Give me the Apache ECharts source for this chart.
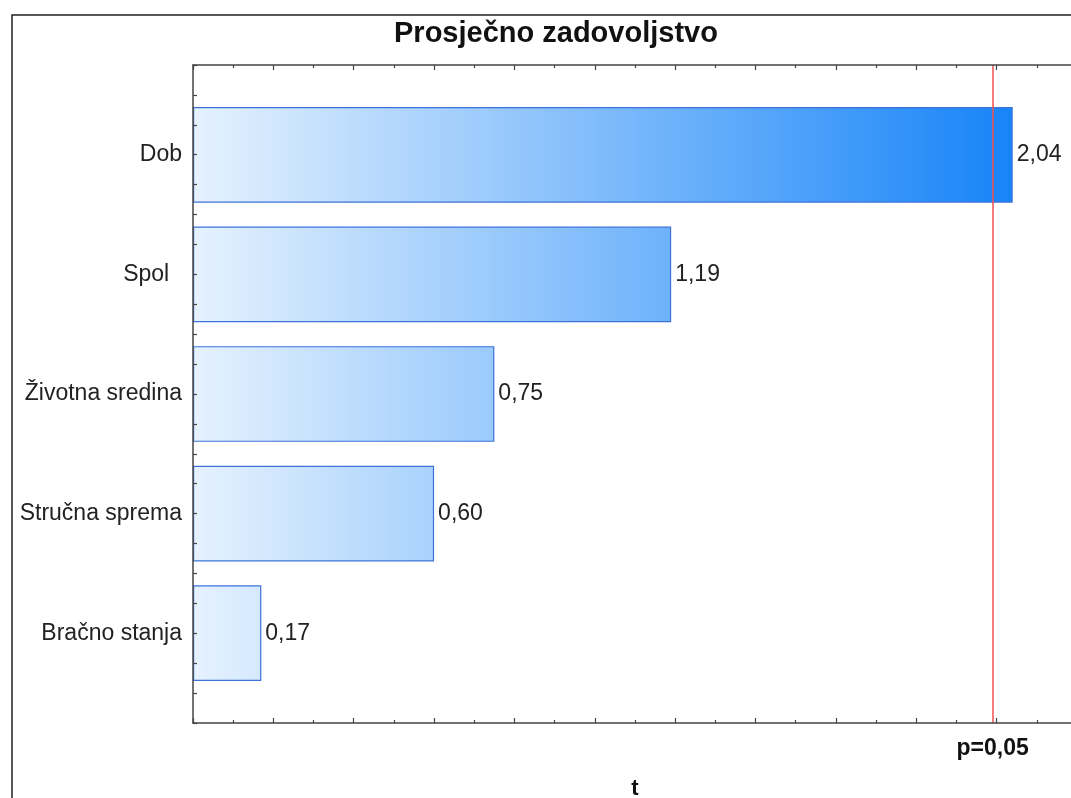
<!DOCTYPE html>
<html><head><meta charset="utf-8">
<script src="https://cdn.jsdelivr.net/npm/echarts@6/dist/echarts.min.js"></script>
<style>html,body{margin:0;padding:0;background:#fff}#c{width:1071px;height:798px}</style>
</head><body><div id="c"></div>
<script>
const categories = ['Dob', 'Spol  ', 'Životna sredina', 'Stručna sprema', 'Bračno stanja'];
const tValues = [2.04, 1.19, 0.75, 0.60, 0.17];
const critT = 1.985;
const critLabel = 'p=0,05';
const titleText = 'Prosječno zadovoljstvo';
const xName = 't';

const FONT = '"Liberation Sans", Arial, sans-serif';
const light = [230, 242, 254];
const dark = [23, 132, 248];
const vmax = Math.max.apply(null, tValues);
function mix(f) {
  return 'rgb(' + light.map((c, i) => Math.round(c + (dark[i] - c) * f)).join(',') + ')';
}
const barData = tValues.map(v => ({
  value: v,
  itemStyle: {
    color: new echarts.graphic.LinearGradient(0, 0, 1, 0, [
      { offset: 0, color: mix(0) },
      { offset: 1, color: mix(v / vmax) }
    ])
  }
}));

const axisLine = { show: true, onZero: false, lineStyle: { color: '#444', width: 1.5 } };
const frameX = (pos) => ({
  type: 'value', gridIndex: 0, position: pos, min: 0, max: 2.2, interval: 0.2, z: 10,
  axisLine: axisLine,
  axisTick: { show: true, inside: true, length: 5, lineStyle: { color: '#444', width: 1.2 } },
  minorTick: { show: true, splitNumber: 2, length: 3, lineStyle: { color: '#444', width: 1.2 } },
  axisLabel: { show: false }, splitLine: { show: false }, minorSplitLine: { show: false }
});
const frameY = (pos) => ({
  type: 'value', gridIndex: 0, position: pos, min: 0.25, max: 5.75, interval: 0.25, z: 10,
  axisLine: axisLine,
  axisTick: { show: true, inside: true, length: 4, lineStyle: { color: '#444', width: 1.2 } },
  axisLabel: { show: false }, splitLine: { show: false }
});

const chart = echarts.init(document.getElementById('c'), null, { renderer: 'canvas' });
chart.setOption({
  backgroundColor: '#fff',
  animation: false,
  textStyle: { fontFamily: FONT },
  title: {
    text: titleText, left: 389, top: 14,
    textStyle: { fontFamily: FONT, fontSize: 29, fontWeight: 'bold', color: '#111' }
  },
  graphic: [{
    type: 'rect', shape: { x: 12, y: 15, width: 1100, height: 900 },
    style: { fill: 'none', stroke: '#222', lineWidth: 1.5 }, silent: true
  }],
  grid: [
    { left: 193, right: -6, top: 65, bottom: 75, outerBoundsMode: 'none', containLabel: false },
    { left: 193, right: -6, top: 95, bottom: 105, outerBoundsMode: 'none', containLabel: false }
  ],
  xAxis: [
    Object.assign(frameX('bottom'), {
      name: xName, nameLocation: 'middle', nameGap: 55,
      nameTextStyle: { fontFamily: FONT, fontSize: 22, fontWeight: 'bold', color: '#111' }
    }),
    frameX('top'),
    { type: 'value', gridIndex: 1, min: 0, max: 2.2, show: false }
  ],
  yAxis: [
    frameY('left'),
    frameY('right'),
    {
      type: 'category', gridIndex: 1, data: categories, inverse: true,
      axisLine: { show: false }, axisTick: { show: false }, splitLine: { show: false },
      axisLabel: { fontFamily: FONT, fontSize: 23, color: '#222', margin: 11 }
    }
  ],
  series: [
    {
      type: 'bar', xAxisIndex: 2, yAxisIndex: 2, data: barData,
      barCategoryGap: '20%',
      itemStyle: { borderColor: '#3d72d9', borderWidth: 1.2 },
      label: {
        show: true, position: 'right', distance: 4,
        fontFamily: FONT, fontSize: 23, color: '#222',
        formatter: p => p.value.toFixed(2).replace('.', ',')
      }
    },
    {
      type: 'scatter', xAxisIndex: 0, yAxisIndex: 0, data: [],
      markLine: {
        silent: true, symbol: 'none',
        lineStyle: { color: '#f05050', width: 1.5, type: 'solid' },
        label: {
          show: true, position: 'start', distance: 14, formatter: critLabel,
          fontFamily: FONT, fontSize: 23, fontWeight: 'bold', color: '#111'
        },
        data: [{ xAxis: critT }]
      }
    }
  ]
});
</script>
</body></html>
